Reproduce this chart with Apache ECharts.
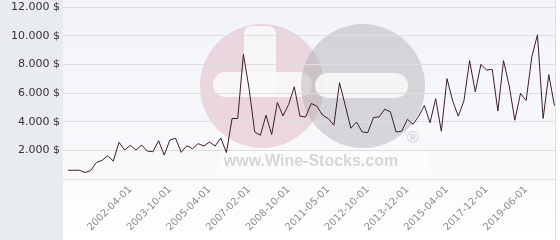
<!DOCTYPE html>
<html>
<head>
<meta charset="utf-8">
<script src="https://cdn.jsdelivr.net/npm/echarts@6/dist/echarts.min.js"></script>
<style>
  html, body { margin: 0; padding: 0; width: 560px; height: 240px; overflow: hidden; background: #ffffff; }
  #leftPanel { position: absolute; left: 0; top: 0; width: 63px; height: 240px; background: #e8ecef; }
  #plotBg { position: absolute; left: 63px; top: 0; width: 492px; height: 240px;
            background: linear-gradient(to bottom, #f3f4f8 0%, #f8f8fb 60%, #ffffff 100%);
            border-right: 1px solid #e1e1e3; }
  #chart { position: absolute; left: 0; top: 0; width: 560px; height: 240px; }
</style>
</head>
<body>
<div id="leftPanel"></div>
<div id="plotBg"></div>
<div id="chart"></div>
<script>
// Values (one point per auction date, equally spaced)
const prices = [
  610, 610, 610, 450, 590, 1150, 1300, 1620, 1250, 2560,
  2020, 2350, 2020, 2370, 1950, 1900, 2680, 1670, 2720, 2840,
  1860, 2320, 2110, 2470, 2300, 2580, 2300, 2860, 1840, 4220,
  4220, 8700, 6320, 3280, 3050, 4450, 3100, 5340, 4400, 5200,
  6430, 4380, 4330, 5270, 5080, 4450, 4220, 3750, 6720, 5150,
  3540, 3980, 3280, 3240, 4290, 4330, 4870, 4680, 3280, 3330,
  4170, 3820, 4380, 5130, 3930, 5600, 3330, 7000, 5450, 4380,
  5460, 8260, 6080, 8000, 7600, 7650, 4740, 8260, 6500, 4100,
  5970, 5480, 8530, 10060, 4220, 7280, 5120
];
// Category positions (index in the series) that carry a date label
const tickIndex = [11, 18, 25, 32, 39, 46, 53, 60, 67, 74, 81];
const tickLabels = ['2002-04-01', '2003-10-01', '2005-04-01', '2007-02-01', '2008-10-01',
                    '2011-05-01', '2012-10-01', '2013-12-01', '2015-04-01', '2017-12-01', '2019-06-01'];
const yMin = 0, yMax = 12000, yStep = 2000;

function fmtMoney(v) {
  if (v === 0) return '';
  const s = String(Math.round(v));
  return s.replace(/\B(?=(\d{3})+(?!\d))/g, '.') + ' $';
}

const chart = echarts.init(document.getElementById('chart'), null, { renderer: 'canvas' });
chart.setOption({
  animation: false,
  backgroundColor: 'transparent',
  grid: { left: 63, right: 5, top: 7, bottom: 61, containLabel: false },
  xAxis: {
    type: 'value',
    min: -0.9,
    max: prices.length - 1 + 0.1,
    axisLine: { show: false },
    axisTick: { show: false },
    splitLine: { show: false },
    axisLabel: {
      customValues: tickIndex,
      formatter: function (v) { const k = tickIndex.indexOf(v); return k >= 0 ? tickLabels[k] : ''; },
      rotate: 45,
      margin: 9,
      color: '#8c8c8c',
      fontSize: 10,
      fontFamily: 'DejaVu Sans'
    }
  },
  yAxis: {
    type: 'value',
    min: yMin, max: yMax, interval: yStep,
    axisLine: { show: false },
    axisTick: { show: false },
    splitLine: { show: true, lineStyle: { color: '#dedee0', width: 1 } },
    axisLabel: {
      formatter: fmtMoney,
      margin: 3,
      color: '#333333',
      fontSize: 11,
      fontFamily: 'DejaVu Sans'
    }
  },
  graphic: [
    { type: 'circle', silent: true, z: 0, shape: { cx: 262, cy: 86, r: 62 }, style: { fill: 'rgba(210,140,160,0.30)' } },
    { type: 'rect', silent: true, z: 0, shape: { x: 244, y: 26, width: 32, height: 71, r: [8, 8, 0, 0] }, style: { fill: 'rgba(250,250,252,0.85)' } },
    { type: 'rect', silent: true, z: 0, shape: { x: 213, y: 72, width: 99, height: 25, r: 12.5 }, style: { fill: 'rgba(250,250,252,0.85)' } },
    { type: 'circle', silent: true, z: 0, shape: { cx: 363, cy: 86, r: 62 }, style: { fill: 'rgba(168,168,172,0.42)' } },
    { type: 'rect', silent: true, z: 0, shape: { x: 315, y: 73, width: 93, height: 25, r: 12.5 }, style: { fill: 'rgba(250,250,252,0.85)' } },
    { type: 'rect', silent: true, z: 0, shape: { x: 222, y: 150, width: 205, height: 24 }, style: { fill: 'rgba(255,255,255,0.45)' } },
    { type: 'text', silent: true, z: 0, x: 311, y: 162,
      style: { text: 'www.Wine-Stocks.com', fill: '#d6d6da', font: 'bold 16px "Liberation Sans", Arial, sans-serif', align: 'center', verticalAlign: 'middle' } },
    { type: 'text', silent: true, z: 0, x: 413, y: 139,
      style: { text: '®', fill: '#cfcfd2', font: '16px "Liberation Sans", Arial, sans-serif', align: 'center', verticalAlign: 'middle' } }
  ],
  series: [{
    type: 'line',
    data: prices.map(function (v, i) { return [i, v]; }),
    symbol: 'none',
    z: 3,
    lineStyle: { color: '#3b1e2a', width: 1 }
  }]
});
</script>
</body>
</html>
